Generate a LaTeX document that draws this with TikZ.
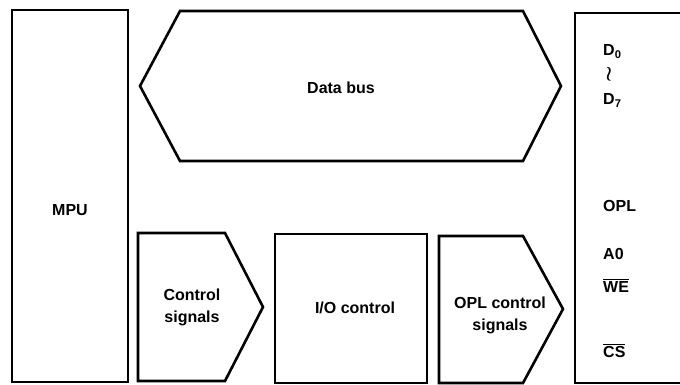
\documentclass[tikz,border=0pt]{standalone}
\usepackage{fontspec}
\setmainfont{Liberation Sans}
\begin{document}
\begin{tikzpicture}[x=1pt,y=-1pt,
  box/.style={line width=2.6pt, line join=miter},
  lbl/.style={font=\fontsize{16}{22}\selectfont\bfseries, inner sep=0pt, align=center},
  pin/.style={font=\fontsize{16}{22}\selectfont\bfseries, inner sep=0pt, anchor=base west}]
\useasboundingbox (0,0) rectangle (680,385);
% MPU block
\draw[box] (12,10) rectangle (128,382);
% Data bus (double-headed hexagon)
\draw[box] (140,86) -- (180,11) -- (523,11) -- (561,86) -- (523,161) -- (180,161) -- cycle;
% OPL chip block (cut by right edge)
\draw[box] (690,13) -- (575,13) -- (575,383) -- (690,383);
% Control signals arrow
\draw[box] (138,233) -- (225,233) -- (263,307) -- (225,381) -- (138,381) -- cycle;
% I/O control block
\draw[box] (275,234) rectangle (427,383);
% OPL control signals arrow
\draw[box] (439,236) -- (523,236) -- (563,309) -- (523,383) -- (439,383) -- cycle;
% Texts
\node[lbl] (mpu) at (70,210) {MPU};
\node[lbl] (bus) at (341,88) {Data bus};
\node[lbl] (ctl) at (192,307) {Control\\signals};
\node[lbl] (ioc) at (355,308) {I/O control};
\node[lbl] (oplc) at (500,315) {OPL control\\signals};
\node[pin] (d0) at (603,56) {D\textsubscript{0}};
\node[lbl, font=\fontsize{20}{22}\selectfont\boldmath] (wr) at (609,74) {$\wr$};
\node[pin] (d7) at (603,105) {D\textsubscript{7}};
\node[pin] (opl) at (603,211) {OPL};
\node[pin] (a0) at (603,259) {A0};
\node[pin] (we) at (603,292) {$\overline{\hbox{WE}}$};
\node[pin] (cs) at (603,357) {$\overline{\hbox{CS}}$};
\end{tikzpicture}
\end{document}
